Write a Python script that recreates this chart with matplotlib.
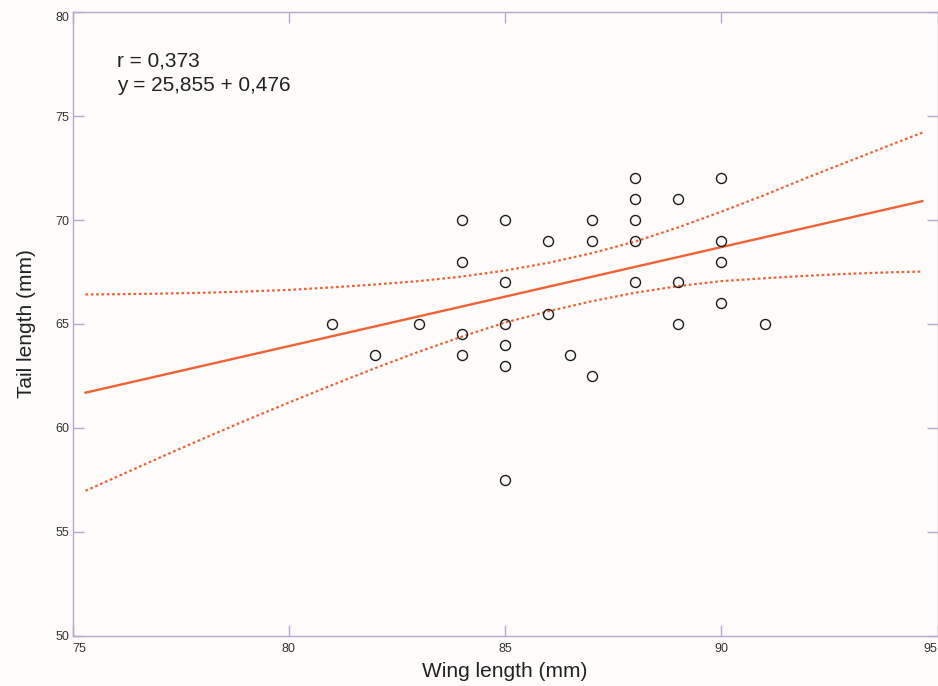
import numpy as np
import matplotlib
matplotlib.use('Agg')
import matplotlib.pyplot as plt

plt.rcParams['font.family'] = ['Liberation Sans', 'DejaVu Sans']

# Observed birds: wing length vs tail length (mm)
wing = [81, 82, 83, 84, 84, 84, 84, 85, 85, 85, 85, 85, 85, 86, 86, 86.5,
        87, 87, 87, 88, 88, 88, 88, 88, 89, 89, 89, 90, 90, 90, 90, 91]
tail = [65, 63.5, 65, 70, 68, 64.5, 63.5, 70, 67, 65, 64, 63, 57.5, 69, 65.5, 63.5,
        70, 69, 62.5, 72, 71, 70, 69, 67, 71, 67, 65, 72, 69, 68, 66, 65]

# Regression from the annotation
intercept = 25.855
slope = 0.476
r_value = '0,373'
x_fit = [75.3, 94.65]

# Confidence band
band_x = [75.3, 76, 77, 78, 79, 80, 81, 82, 83, 84, 85, 86, 87, 88, 89, 90,
          91, 92, 93, 94, 94.65]
band_upper = [66.42, 66.43, 66.46, 66.50, 66.56, 66.64, 66.76, 66.90, 67.06, 67.28,
              67.57, 67.94, 68.40, 68.96, 69.64, 70.40, 71.20, 72.05, 72.86, 73.68, 74.2]
band_lower = [56.98, 57.63, 58.56, 59.47, 60.36, 61.22, 62.06, 62.88, 63.66, 64.39,
              65.07, 65.61, 66.09, 66.50, 66.82, 67.06, 67.20, 67.32, 67.42, 67.49, 67.52]

line_color = '#ef6236'
spine_color = '#b6a8cc'

fig = plt.figure(figsize=(9.38, 6.86), dpi=100, facecolor='#fdfcfa')
ax = fig.add_axes([0.0773, 0.0729, 0.9222, 0.9096])
ax.set_facecolor('#fdfcfa')

x_line = np.array(x_fit)
ax.plot(x_line, intercept + slope * x_line, color=line_color, lw=1.7)
ax.plot(band_x, band_upper, color=line_color, lw=1.6, ls=(0, (1.2, 1.2)))
ax.plot(band_x, band_lower, color=line_color, lw=1.6, ls=(0, (1.2, 1.2)))
ax.plot(wing, tail, 'o', ms=7.2, mfc='none', mec='#1a1a1a', mew=1.0)

ax.text(76.03, 77.36, 'r = ' + r_value, fontsize=15, color='#222222', va='baseline')
ax.text(76.03, 76.2, 'y = %s + %s' % (str(intercept).replace('.', ','),
                                      str(slope).replace('.', ',')),
        fontsize=15, color='#222222', va='baseline')

ax.set_xlim(75, 95)
ax.set_ylim(50, 80)
ax.set_xticks([75, 80, 85, 90, 95])
ax.set_yticks([50, 55, 60, 65, 70, 75, 80])
ax.set_xlabel('Wing length (mm)', fontsize=15, color='#222222', labelpad=5)
ax.set_ylabel('Tail length (mm)', fontsize=15, color='#222222', labelpad=14)

for s in ax.spines.values():
    s.set_color(spine_color)
    s.set_linewidth(1.0)
ax.tick_params(direction='in', length=8, width=1.0, color=spine_color,
               top=True, right=True, labelsize=9, labelcolor='#333333')
ax.tick_params(axis='x', pad=5)
ax.tick_params(axis='y', pad=2.5)

# end labels sit inside the frame like the original
xlabels = ax.get_xticklabels()
xlabels[0].set_horizontalalignment('left')
xlabels[-1].set_horizontalalignment('right')
ax.get_yticklabels()[-1].set_verticalalignment('top')

fig.savefig('out.png', dpi=100, facecolor=fig.get_facecolor())
